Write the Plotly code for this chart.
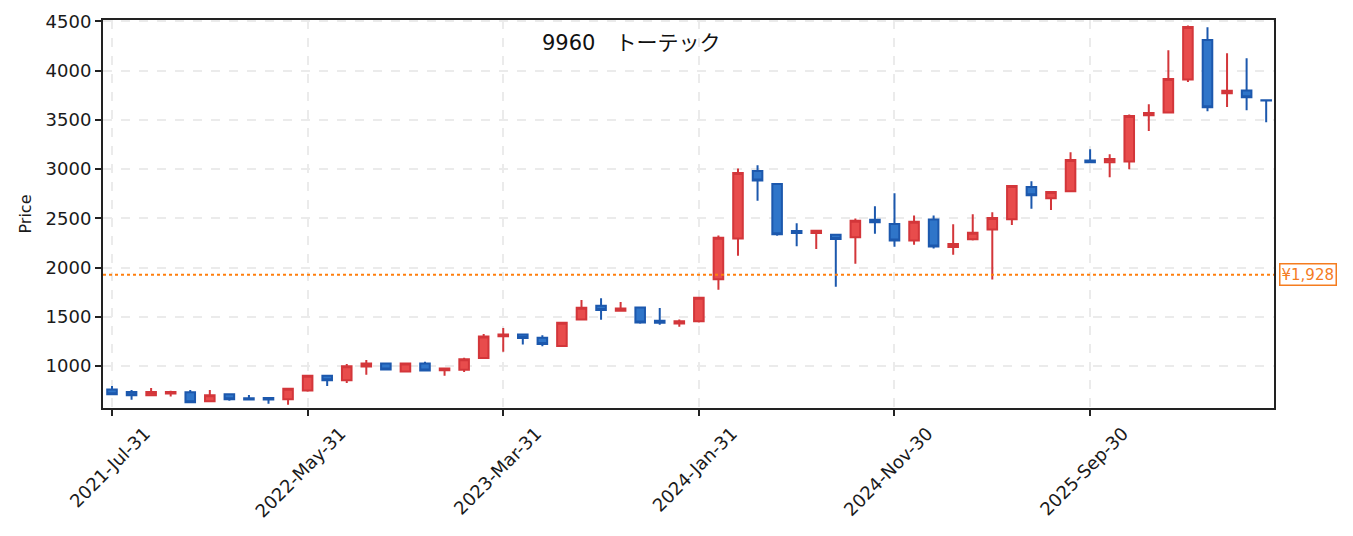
import pandas as pd
import plotly.graph_objects as go

# monthly candles, 9960 トーテック
months = pd.date_range('2021-07-31', periods=60, freq='ME').strftime('%Y-%b-%d').tolist()

opens = [763, 736, 703, 722, 733, 642, 713, 672, 675, 662,
         753, 902, 855, 995, 1027, 946, 1027, 958, 962, 1081,
         1303, 1320, 1287, 1203, 1474, 1612, 1563, 1596, 1460, 1432,
         1454, 1883, 2296, 2982, 2850, 2373, 2352, 2333, 2309, 2485,
         2444, 2276, 2489, 2210, 2289, 2387, 2492, 2820, 2705, 2776,
         3088, 3070, 3078, 3548, 3575, 3910, 4312, 3770, 3798, 3700]
highs = [797, 756, 777, 748, 756, 756, 716, 706, 686, 772,
         905, 905, 1020, 1061, 1030, 1030, 1044, 978, 1084, 1325,
         1386, 1322, 1312, 1442, 1670, 1690, 1650, 1600, 1589, 1474,
         1695, 2327, 3007, 3040, 2860, 2451, 2380, 2335, 2499, 2624,
         2756, 2530, 2530, 2441, 2543, 2563, 2835, 2878, 2772, 3172,
         3203, 3152, 3555, 3659, 4207, 4458, 4441, 4177, 4126, 3710]
lows = [710, 658, 700, 690, 628, 638, 648, 657, 617, 607,
        740, 797, 827, 912, 963, 936, 953, 902, 939, 1078,
        1145, 1220, 1200, 1200, 1472, 1470, 1551, 1430, 1420, 1399,
        1443, 1775, 2120, 2678, 2323, 2218, 2188, 1805, 2038, 2343,
        2211, 2231, 2195, 2130, 2276, 1880, 2434, 2597, 2586, 2774,
        3062, 2918, 3000, 3388, 3572, 3886, 3588, 3632, 3598, 3477]
closes = [713, 703, 736, 737, 632, 703, 662, 660, 660, 770,
          902, 855, 997, 1025, 966, 1027, 956, 975, 1068, 1301,
          1320, 1285, 1225, 1440, 1592, 1570, 1585, 1443, 1440, 1454,
          1693, 2302, 2962, 2885, 2340, 2352, 2375, 2290, 2475, 2460,
          2276, 2465, 2215, 2241, 2353, 2505, 2830, 2736, 2769, 3094,
          3070, 3102, 3540, 3570, 3916, 4444, 3629, 3796, 3730, 3698]

tick_months = [months[i] for i in range(0, 60, 10)]
tick_labels = ['2021-Jul-31', '2022-May-31', '2023-Mar-31',
               '2024-Jan-31', '2024-Nov-30', '2025-Sep-30']

ref_price = 1928
font = 'DejaVu Sans, Noto Sans CJK JP'

fig = go.Figure()

fig.add_trace(go.Candlestick(
    x=months,
    open=opens,
    high=highs,
    low=lows,
    close=closes,
    increasing=dict(line=dict(color='#d3363a', width=2), fillcolor='#e84c4c'),
    decreasing=dict(line=dict(color='#1c58ad', width=2), fillcolor='#2f75c9'),
    whiskerwidth=0,
    showlegend=False
))

fig.add_hline(y=ref_price, line=dict(color='#ff7f0e', width=2, dash='dot'))

fig.add_annotation(
    x=1, xref='paper', y=ref_price, yref='y',
    text=f'¥{ref_price:,}', showarrow=False,
    xanchor='left', xshift=5,
    font=dict(family=font, size=15, color='#f57c1f'),
    bgcolor='white', bordercolor='#f57c1f', borderwidth=1.5, borderpad=1
)

fig.add_annotation(
    x=0.451, xref='paper', y=0.94, yref='paper',
    text='9960\u00a0\u00a0\u00a0トーテック', showarrow=False,
    xanchor='center', yanchor='middle',
    font=dict(family=font, size=21, color='#111')
)

# page body has an 8px margin, so margins are shifted by that much
fig.update_layout(
    width=1353,
    height=536,
    margin=dict(l=95, r=87, t=12, b=136),
    paper_bgcolor='white',
    plot_bgcolor='white',
    font=dict(family=font, size=18, color='#1a1a1a'),
    xaxis=dict(
        type='category',
        range=[-0.46, 59.4],
        automargin=False,
        rangeslider=dict(visible=False),
        tickvals=tick_months,
        ticktext=tick_labels,
        tickangle=-45,
        ticklabelshift=33,
        ticks='outside', ticklen=6, tickwidth=2, tickcolor='#222',
        showline=True, linecolor='#222', linewidth=2, mirror=True,
        showgrid=True, gridcolor='#ebebeb', griddash='dash', gridwidth=1.5
    ),
    yaxis=dict(
        range=[574, 4515],
        automargin=False,
        tickvals=[1000, 1500, 2000, 2500, 3000, 3500, 4000, 4500],
        ticklabeloverflow='allow',
        ticks='outside', ticklen=6, tickwidth=2, tickcolor='#222',
        showline=True, linecolor='#222', linewidth=2, mirror=True,
        showgrid=True, gridcolor='#ebebeb', griddash='dash', gridwidth=1.5,
        zeroline=False,
        title=dict(text='Price', font=dict(size=16), standoff=10)
    )
)

fig.write_html('out.html')
